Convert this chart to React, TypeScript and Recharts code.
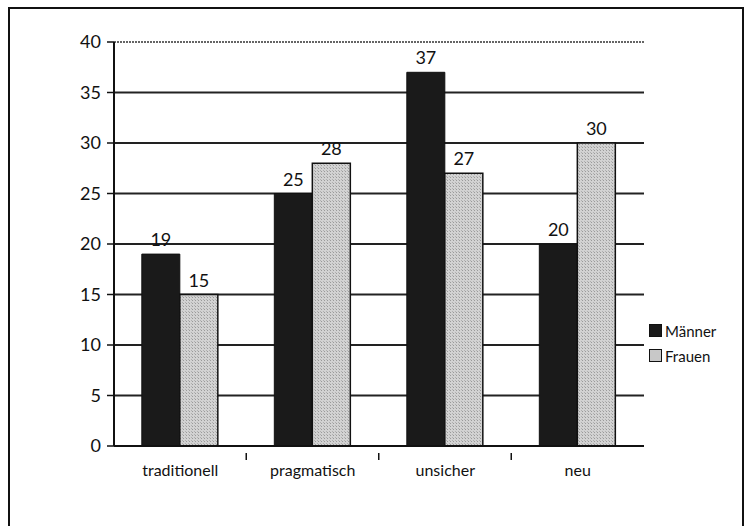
import React from 'react';
import { BarChart, Bar, XAxis, YAxis, CartesianGrid, LabelList, ReferenceLine } from 'recharts';

const categories = ['traditionell', 'pragmatisch', 'unsicher', 'neu'];
const maenner = [19, 25, 37, 20];
const frauen = [15, 28, 27, 30];
const yTicks = [0, 5, 10, 15, 20, 25, 30, 35, 40];
const gridValues = [5, 10, 15, 20, 25, 30, 35];
const seriesNames = ['Männer', 'Frauen'];
const seriesColors = ['#1a1a1a', '#c8c8c8'];

const data = categories.map((name, i) => ({ name, Männer: maenner[i], Frauen: frauen[i] }));

const FONT = 'Lato, "DejaVu Sans", sans-serif';
const HALF_BAND = 66;

const XTick = (props: any) => {
  const { x, y, payload, index } = props;
  return (
    <g>
      <text x={x} y={y + 22} textAnchor="middle" fontSize={16} fill="#111" fontFamily={FONT}>
        {payload.value}
      </text>
      {index < categories.length - 1 && (
        <line x1={x + HALF_BAND} x2={x + HALF_BAND} y1={y - 1} y2={y + 6} stroke="#111" strokeWidth={1.5} />
      )}
    </g>
  );
};

export default function App() {
  return (
    <div style={{ position: 'fixed', left: 0, top: 0, width: 744, height: 526, background: '#fff', overflow: 'hidden' }}>
      <div
        style={{
          position: 'absolute',
          left: 8,
          top: 7,
          width: 732,
          height: 540,
          borderLeft: '2px solid #111',
          borderTop: '2px solid #111',
          borderRight: '2px solid #111',
        }}
      />
      <div style={{ position: 'absolute', left: 0, top: 0 }}>
        <BarChart
          width={744}
          height={526}
          data={data}
          margin={{ top: 42, right: 100, bottom: 50, left: 0 }}
          barCategoryGap="21%"
          barGap={0}
        >
          <defs>
            <pattern id="dots" width="3" height="3" patternUnits="userSpaceOnUse">
              <rect width="3" height="3" fill="#d2d2d2" />
              <rect width="1" height="1" fill="#9a9a9a" />
              <rect x="2" y="2" width="1" height="1" fill="#b0b0b0" />
            </pattern>
          </defs>
          <CartesianGrid yAxisId="left" vertical={false} stroke="#222" strokeWidth={2} horizontalValues={gridValues} />
          <ReferenceLine y={40} yAxisId="left" stroke="#333" strokeWidth={1.5} strokeDasharray="2 1" />
          <XAxis
            dataKey="name"
            height={30}
            tick={<XTick />}
            tickLine={false}
            axisLine={{ stroke: '#111', strokeWidth: 2 }}
            interval={0}
          />
          <YAxis
            yAxisId="left"
            width={114}
            domain={[0, 40]}
            ticks={yTicks}
            interval={0}
            tick={{ fontSize: 18, fill: '#111', fontFamily: FONT }}
            tickLine={{ stroke: '#111', strokeWidth: 1.5 }}
            tickSize={7}
            tickMargin={6}
            axisLine={{ stroke: '#111', strokeWidth: 2 }}
          />
          <YAxis
            yAxisId="right"
            orientation="right"
            width={0}
            domain={[0, 40]}
            tick={false}
            tickLine={false}
            axisLine={{ stroke: '#111', strokeWidth: 2 }}
          />
          <Bar yAxisId="left" dataKey="Männer" fill={seriesColors[0]} stroke="#111" strokeWidth={1} isAnimationActive={false}>
            <LabelList dataKey="Männer" position="top" offset={8} fontSize={18} fill="#111" fontFamily={FONT} />
          </Bar>
          <Bar yAxisId="left" dataKey="Frauen" fill="url(#dots)" stroke="#111" strokeWidth={1.5} isAnimationActive={false}>
            <LabelList dataKey="Frauen" position="top" offset={8} fontSize={18} fill="#111" fontFamily={FONT} />
          </Bar>
        </BarChart>
      </div>
      <div style={{ position: 'absolute', left: 649, top: 318, fontFamily: FONT, fontSize: 15, color: '#111' }}>
        {seriesNames.map((n, i) => (
          <div key={n} style={{ display: 'flex', alignItems: 'center', height: 25 }}>
            <span
              style={{
                display: 'inline-block',
                width: 11,
                height: 11,
                marginRight: 3,
                background: seriesColors[i],
                border: '1px solid #111',
              }}
            />
            {n}
          </div>
        ))}
      </div>
    </div>
  );
}
